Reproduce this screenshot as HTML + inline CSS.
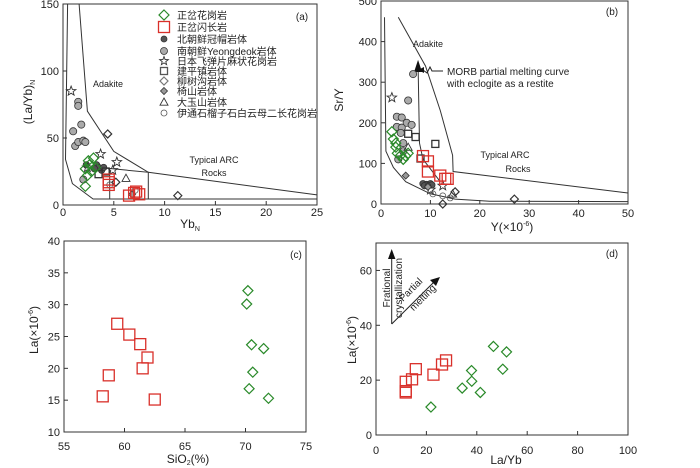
<!DOCTYPE html>
<html><head><meta charset="utf-8"><style>
body{margin:0;background:#fff}
svg{display:block;font-family:"Liberation Sans","Noto Sans CJK SC",sans-serif}
</style></head><body>
<svg id="fig" width="700" height="468" viewBox="0 0 700 468" xmlns="http://www.w3.org/2000/svg"></svg>
<script>
// ---- data panel a: (La/Yb)N vs YbN
const aGreen=[[2.2,27],[2.5,33],[3,35],[2.8,25],[2.4,22],[2.2,14],[2.6,30],[3.2,28]];
const aRed=[[4.5,19],[4.5,15],[4.5,17],[6.5,7],[7,9],[7.5,8],[7.2,10]];
const aGrey=[[1,55],[1.5,77],[1.5,74],[1.8,60],[1.2,44],[1.5,47],[2,48],[2.2,47],[2,19]];
const aDark=[[2.3,30],[3.3,30],[3.5,28],[3.8,26],[4,28],[3.1,27]];
const aStar=[[0.8,85],[3.7,38],[5.3,32],[4.9,26],[2.4,28]];
const aSq=[[3.5,23],[4.2,25]];
const aDia=[[4.4,53],[5.2,17],[11.3,7]];
const aDiaF=[[6.8,8]];
const aTri=[[6.2,20]];
const aCirc=[[7.1,11],[4.6,15]];
// ---- data panel b: Sr/Y vs Y
const bGreen=[[2.2,178],[2.5,160],[3,150],[3.3,125],[4,120],[4.5,110],[5,118],[5.5,125],[3,140]];
const bRed=[[8.5,118],[9.5,105],[9.5,80],[12,70],[13,62],[13.5,62]];
const bGrey=[[6.5,320],[5.5,255],[3.2,215],[4.2,213],[5.2,200],[6.2,195],[3.2,190],[4.2,188],[4,175],[4.5,150],[4.5,130],[3.5,110]];
const bDark=[[8.5,50],[9.2,48],[10,50],[8.8,45],[9.6,45],[10.3,47]];
const bStar=[[2.2,262],[12.5,45],[10,35]];
const bSq=[[5.5,173],[7,165],[11,148],[8,112]];
const bDia=[[12.5,0],[27,12],[15,30]];
const bDiaF=[[5,70],[9.5,42]];
const bTri=[[5.5,140],[14.5,25]];
const bCirc=[[12.5,20],[14,15],[10.5,25]];
// ---- data panel c: La vs SiO2
const cRed=[[58.2,15.6],[58.7,18.9],[59.4,27],[60.4,25.3],[61.3,23.8],[61.9,21.7],[61.5,20],[62.5,15.1]];
const cGreen=[[70.2,32.2],[70.1,30.1],[70.5,23.7],[71.5,23.1],[70.6,19.4],[70.3,16.8],[71.9,15.3]];
// ---- data panel d: La vs La/Yb
const dRed=[[11.8,19.4],[11.8,16],[11.8,15.5],[14.3,20.3],[15.8,24],[22.8,22],[26.2,25.7],[27.8,27.2]];
const dGreen=[[21.8,10.2],[34.2,17.1],[37.9,23.5],[38,19.6],[41.4,15.5],[46.6,32.3],[50.3,24],[51.8,30.3]];
// ticks
const aXT=[0,5,10,15,20,25], aYT=[0,50,100,150];
const bXT=[0,10,20,30,40,50], bYT=[0,100,200,300,400,500];
const cXT=[55,60,65,70,75], cYT=[10,15,20,25,30,35,40];
const dXT=[0,20,40,60,80,100], dYT=[0,20,40,60];

const S=document.getElementById('fig'),NS='http://www.w3.org/2000/svg';
function mk(t,at,p){const e=document.createElementNS(NS,t);for(const k in at)e.setAttribute(k,at[k]);(p||S).appendChild(e);return e;}
function txt(x,y,s,o){o=o||{};const e=mk('text',{x:x,y:y,'font-size':o.fs||11,'text-anchor':o.a||'middle',fill:'#222'});if(o.r)e.setAttribute('transform','rotate('+o.r+' '+x+' '+y+')');e.innerHTML=s;return e;}
function panel(id,x0,x1,y0,y1,xmin,xmax,ymin,ymax,xt,yt,xoff){
  const sx=v=>x0+(v-xmin)/(xmax-xmin)*(x1-x0), sy=v=>y0-(v-ymin)/(ymax-ymin)*(y0-y1);
  const g=mk('g',{});
  const r=mk('rect',{x:x0,y:y1,width:x1-x0,height:y0-y1,fill:'none',stroke:'#333','stroke-width':1},g);
  
  xt.forEach(v=>{mk('line',{x1:sx(v),x2:sx(v),y1:y0,y2:y0-4,stroke:'#333'},g);const t=txt(sx(v),y0+xoff,v);});
  yt.forEach(v=>{mk('line',{x1:x0,x2:x0+4,y1:sy(v),y2:sy(v),stroke:'#333'},g);const t=txt(x0-4,sy(v)+4,v,{a:'end'});});
  return {sx,sy,g};
}
function poly(P,pts,name,w){const d=pts.map(p=>P.sx(p[0]).toFixed(1)+','+P.sy(p[1]).toFixed(1)).join(' ');const e=mk('polyline',{points:d,fill:'none',stroke:'#333','stroke-width':w||1},P.g);return e;}
function marks(P,arr,type,col,sz,name){arr.forEach(p=>{const x=P.sx(p[0]),y=P.sy(p[1]);let e;const s=sz;
  if(type==='sq')e=mk('rect',{x:x-s,y:y-s,width:2*s,height:2*s,fill:'none',stroke:col,'stroke-width':1.3},P.g);
  else if(type==='dia')e=mk('polygon',{points:`${x},${y-s} ${x+s},${y} ${x},${y+s} ${x-s},${y}`,fill:'none',stroke:col,'stroke-width':1.2},P.g);
  else if(type==='diaF')e=mk('polygon',{points:`${x},${y-s} ${x+s},${y} ${x},${y+s} ${x-s},${y}`,fill:'#999',stroke:'#333','stroke-width':0.8},P.g);
  else if(type==='circ')e=mk('circle',{cx:x,cy:y,r:s,fill:col,stroke:'#333','stroke-width':0.8},P.g);
  else if(type==='oc')e=mk('circle',{cx:x,cy:y,r:s,fill:'none',stroke:'#555','stroke-width':0.8},P.g);
  else if(type==='tri')e=mk('polygon',{points:`${x},${y-s} ${x+s},${y+s*0.8} ${x-s},${y+s*0.8}`,fill:'none',stroke:'#333','stroke-width':0.9},P.g);
  else if(type==='star'){let pts=[];for(let i=0;i<10;i++){const a=-Math.PI/2+i*Math.PI/5,r=i%2?s*0.42:s;pts.push((x+r*Math.cos(a)).toFixed(1)+','+(y+r*Math.sin(a)).toFixed(1));}e=mk('polygon',{points:pts.join(' '),fill:'none',stroke:'#333','stroke-width':0.9},P.g);}
  });}

// Panel a
const A=panel('panel-a',63,317,205,4,0,25,0,150,aXT,aYT,11);
poly(A,[[0.45,150],[0.25,34],[0.93,16],[2.96,4.5],[25,4.5]],'adakite-left-boundary');
poly(A,[[1.58,150],[2.4,70],[5,40],[8.4,24.4],[25,7.5]],'adakite-arc-boundary');
poly(A,[[3.6,28],[8.4,24.4],[8.4,4.5]],'arc-field-boundary');
poly(A,[[4.6,27],[4.6,4.5]],'vertical-divider');
marks(A,aGrey,'circ','#aaa',3.6,'yeongdeok-point');
marks(A,aDark,'circ','#555',3.2,'north-korea-point');
marks(A,aStar,'star','',5,'japan-point');
marks(A,aSq,'sq','#333',3.5,'jianping-point');
marks(A,aDia,'dia','#333',4,'liushugou-point');
marks(A,aDiaF,'diaF','',3.5,'yishan-point');
marks(A,aTri,'tri','',4,'dayushan-point');
marks(A,aCirc,'oc','',3,'yitong-point');
marks(A,aGreen,'dia','#2a8a2a',5,'granite-point');
marks(A,aRed,'sq','#d9302a',5.5,'diorite-point');
txt(108,87,'Adakite',{fs:9});txt(214,163,'Typical ARC',{fs:9});txt(214,176,'Rocks',{fs:9});
txt(302,20,'(a)',{fs:10});
txt(32,102,'(La/Yb)<tspan font-size="7" dy="3">N</tspan>',{r:-90,fs:12});
txt(190,228,'Yb<tspan font-size="7" dy="3">N</tspan>',{fs:12});
// legend
const legT=['正岔花岗岩','正岔闪长岩','北朝鲜冠帽岩体','南朝鲜Yeongdeok岩体','日本飞弹片麻状花岗岩','建平镇岩体','柳树沟岩体','椅山岩体','大玉山岩体','伊通石榴子石白云母二长花岗岩'];
const legY=[15,27,39,51,61,71,81,91,102,113];
const legTypes=[['dia','#2a8a2a',5],['sq','#d9302a',5.5],['circ','#555',3],['circ','#aaa',3.5],['star','',4.5],['sq','#555',3.5],['dia','#777',4],['diaF','',3.5],['tri','',4],['oc','',3]];
legT.forEach((t,i)=>{const x=164,y=legY[i];const P={sx:v=>v,sy:v=>v,g:A.g};marks(P,[[x,y]],legTypes[i][0],legTypes[i][1],legTypes[i][2],'legend-marker');const e=txt(177,y+4,t,{a:'start',fs:10});});

// Panel b
const B=panel('panel-b',381,628,204,1,0,50,0,500,bXT,bYT,13);
poly(B,[[0.7,460],[1,130],[2.5,90],[5,55],[10,25],[15,12],[22,7],[50,6]],'adakite-left-boundary');
poly(B,[[3.5,460],[9,340],[12,230],[14.5,120],[14.6,80],[50,27]],'adakite-arc-boundary');
poly(B,[[7.5,340],[7.8,150],[8.5,110],[12,55]],'morb-melting-curve');
mk('polygon',{points:`${B.sx(7.5)-4},${B.sy(325)} ${B.sx(7.5)+4},${B.sy(325)} ${B.sx(7.5)},${B.sy(355)}`,fill:'#111'},B.g);
mk('polyline',{points:'443,71 432,71 430,67 427,73 423,70 420,70',fill:'none',stroke:'#222'},B.g);
mk('polygon',{points:'418,70 424,67 424,73',fill:'#111'},B.g);
marks(B,bGrey,'circ','#aaa',3.6,'yeongdeok-point');
marks(B,bDark,'circ','#555',3.2,'north-korea-point');
marks(B,bStar,'star','',5,'japan-point');
marks(B,bSq,'sq','#333',3.5,'jianping-point');
marks(B,bDia,'dia','#333',4,'liushugou-point');
marks(B,bDiaF,'diaF','',3.5,'yishan-point');
marks(B,bTri,'tri','',4,'dayushan-point');
marks(B,bCirc,'oc','',3,'yitong-point');
marks(B,bGreen,'dia','#2a8a2a',5,'granite-point');
marks(B,bRed,'sq','#d9302a',5.5,'diorite-point');
txt(428,47,'Adakite',{fs:9});txt(447,75,'MORB partial melting curve',{a:'start',fs:10});txt(447,87,'with eclogite as a restite',{a:'start',fs:10});
txt(505,158,'Typical ARC',{fs:9});txt(518,172,'Rocks',{fs:9});txt(612,15,'(b)',{fs:10});
txt(343,100,'Sr/Y',{r:-90,fs:12});
txt(512,231,'Y(×10<tspan font-size="7" dy="-5">-6</tspan><tspan dy="5">)</tspan>',{fs:12});

// Panel c
const C=panel('panel-c',64,306,432,241,55,75,10,40,cXT,cYT,18);
marks(C,cRed,'sq','#d9302a',5.5,'diorite-point');
marks(C,cGreen,'dia','#2a8a2a',5,'granite-point');
txt(296,258,'(c)',{fs:10});
txt(38,330,'La(×10<tspan font-size="7" dy="-5">-6</tspan><tspan dy="5">)</tspan>',{r:-90,fs:12});
txt(188,463,'SiO<tspan font-size="7" dy="2">2</tspan><tspan dy="-2">(%)</tspan>',{fs:12});

// Panel d
const D=panel('panel-d',376,628,435,243,0,100,0,70,dXT,dYT,19);
marks(D,dRed,'sq','#d9302a',5.5,'diorite-point');
marks(D,dGreen,'dia','#2a8a2a',5,'granite-point');
mk('line',{x1:391.7,y1:324,x2:391.7,y2:256,stroke:'#222'},D.g);
mk('polygon',{points:'391.7,249 388,259 395.4,259',fill:'#111'},D.g);
mk('line',{x1:391.7,y1:324,x2:435,y2:281,stroke:'#222'},D.g);
mk('polygon',{points:'440,277 430,280 436,286',fill:'#111'},D.g);
txt(390,288,'Frational',{r:-90,fs:10});txt(402,288,'crystallization',{r:-90,fs:10});
txt(413,292,'Partial',{r:-45,fs:10});txt(425,300,'melting',{r:-45,fs:10});
txt(612,257,'(d)',{fs:10});
txt(356,340,'La(×10<tspan font-size="7" dy="-5">-6</tspan><tspan dy="5">)</tspan>',{r:-90,fs:12});
txt(506,464,'La/Yb',{fs:12});
</script>
</body></html>
